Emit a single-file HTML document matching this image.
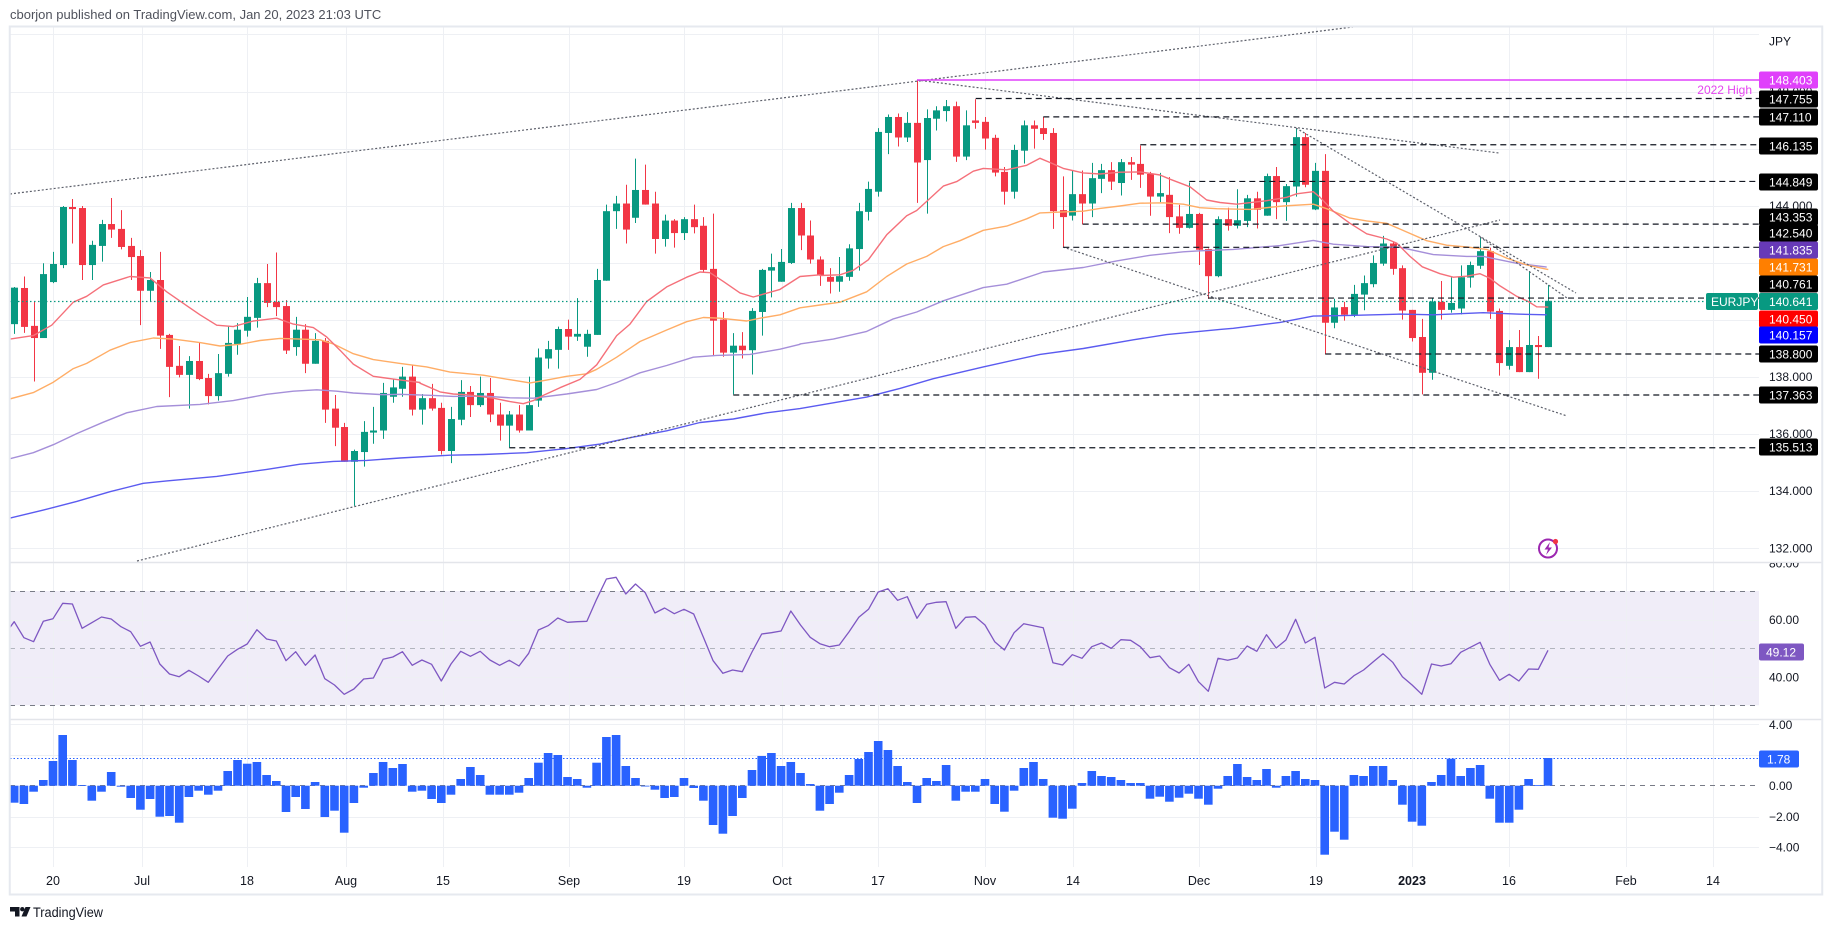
<!DOCTYPE html>
<html><head><meta charset="utf-8"><title>EURJPY chart</title>
<style>
html,body{margin:0;padding:0;background:#fff}
body{width:1833px;height:930px;overflow:hidden;position:relative}
svg{position:absolute;left:0;top:0;font-family:"Liberation Sans",Arial,sans-serif}
</style></head>
<body>
<svg id="s" width="1833" height="930" viewBox="0 0 1833 930" xmlns="http://www.w3.org/2000/svg">
<defs>
<clipPath id="cm"><rect x="10" y="27" width="1749" height="535"/></clipPath>
<clipPath id="cr"><rect x="10" y="563" width="1749" height="155"/></clipPath>
<clipPath id="cd"><rect x="10" y="720" width="1749" height="147"/></clipPath>
<clipPath id="ar"><rect x="1759" y="563" width="63" height="155"/></clipPath>
<clipPath id="ad"><rect x="1759" y="720" width="63" height="147"/></clipPath>
</defs>
<rect width="1833" height="930" fill="#fff"/>
<text x="10" y="19" font-size="13" fill="#4f525c">cborjon published on TradingView.com, Jan 20, 2023 21:03 UTC</text>

<rect x="10" y="591" width="1749" height="114.3" fill="#F0EDF8"/>
<g id="grid"></g>

<!-- RSI pane static lines -->
<g clip-path="url(#cr)">
<line x1="10" x2="1759" y1="591.5" y2="591.5" stroke="#787B86" stroke-dasharray="5 5"/>
<line x1="10" x2="1759" y1="648.5" y2="648.5" stroke="#B2B5BE" stroke-dasharray="5 5"/>
<line x1="10" x2="1759" y1="705.5" y2="705.5" stroke="#787B86" stroke-dasharray="5 5"/>
<g id="rsi"></g>
</g>

<!-- MACD pane -->
<g clip-path="url(#cd)">
<line x1="10" x2="1759" y1="785.5" y2="785.5" stroke="#787B86" stroke-dasharray="5 5"/>
<g id="hist"></g>
<line x1="10" x2="1759" y1="758.5" y2="758.5" stroke="#2962FF" stroke-dasharray="1.5 2"/>
</g>

<!-- main pane -->
<g clip-path="url(#cm)">
<g id="candles"></g>
<g id="mas"></g>
<g id="draw"></g>
<line x1="10" x2="1706" y1="301.5" y2="301.5" stroke="#089981" stroke-dasharray="1.5 2.5" stroke-width="1.2"/>
<line x1="917" x2="1759" y1="80" y2="80" stroke="#E040FB" stroke-width="1.5"/>
<text x="1752" y="94" font-size="12" fill="#E545F0" text-anchor="end">2022 High</text>
<!-- lightning icon -->
<circle cx="1548" cy="548.5" r="9" fill="#fff" stroke="#9C27B0" stroke-width="2"/>
<path d="M1550 542 L1544.5 549.5 L1548 549.5 L1546 555 L1552 547.5 L1548.5 547.5 Z" fill="#9C27B0"/>
<circle cx="1555.5" cy="541.5" r="2.6" fill="#F23645"/>
</g>

<!-- separators & frame -->
<line x1="10" x2="1822" y1="562.5" y2="562.5" stroke="#E3E5EA" stroke-width="1.5"/>
<line x1="10" x2="1822" y1="719.5" y2="719.5" stroke="#E3E5EA" stroke-width="1.5"/>
<rect x="9.75" y="26.5" width="1812.5" height="868" fill="none" stroke="#E6E9EF" stroke-width="2"/>

<!-- price axis gray labels -->
<g font-size="12" fill="#131722">
<text x="1769" y="45.5">JPY</text>
<text x="1769" y="95.8">148.000</text>
<text x="1769" y="209.9">144.000</text>
<text x="1769" y="381.1">138.000</text>
<text x="1769" y="438.2">136.000</text>
<text x="1769" y="495.2">134.000</text>
<text x="1769" y="552.3">132.000</text>
</g>
<g font-size="12" fill="#131722" clip-path="url(#ar)">
<text x="1769" y="567.3">80.00</text>
<text x="1769" y="624">60.00</text>
<text x="1769" y="681.3">40.00</text>
</g>
<g font-size="12" fill="#131722" clip-path="url(#ad)">
<text x="1769" y="728.8">4.00</text>
<text x="1769" y="790">0.00</text>
<text x="1769" y="820.8">−2.00</text>
<text x="1769" y="851.6">−4.00</text>
</g>

<!-- price axis boxed labels -->
<g font-size="12" fill="#fff">
<rect x="1759" y="71.5" width="59" height="17" rx="2" fill="#E040FB"/><text x="1769" y="84.3">148.403</text>
<rect x="1759" y="90.5" width="59" height="17" rx="2" fill="#000"/><text x="1769" y="103.3">147.755</text>
<rect x="1759" y="108.5" width="59" height="17" rx="2" fill="#000"/><text x="1769" y="121.3">147.110</text>
<rect x="1759" y="137.5" width="59" height="17" rx="2" fill="#000"/><text x="1769" y="150.3">146.135</text>
<rect x="1759" y="173.5" width="59" height="17" rx="2" fill="#000"/><text x="1769" y="186.3">144.849</text>
<rect x="1759" y="208.5" width="59" height="17" rx="2" fill="#000"/><text x="1769" y="221.3">143.353</text>
<rect x="1759" y="224.5" width="59" height="17" rx="2" fill="#000"/><text x="1769" y="237.3">142.540</text>
<rect x="1759" y="241.5" width="59" height="17" rx="2" fill="#673AB7"/><text x="1769" y="254.3">141.835</text>
<rect x="1759" y="258.5" width="59" height="17" rx="2" fill="#FF7F00"/><text x="1769" y="271.3">141.731</text>
<rect x="1759" y="275.5" width="59" height="17" rx="2" fill="#000"/><text x="1769" y="288.3">140.761</text>
<rect x="1706" y="293" width="52" height="17" rx="2" fill="#089981"/><text x="1711" y="306">EURJPY</text>
<rect x="1759" y="293" width="59" height="17" rx="2" fill="#089981"/><text x="1769" y="306">140.641</text>
<rect x="1759" y="310.5" width="59" height="17" rx="2" fill="#FF0000"/><text x="1769" y="323.3">140.450</text>
<rect x="1759" y="326.5" width="59" height="17" rx="2" fill="#0000FF"/><text x="1769" y="339.3">140.157</text>
<rect x="1759" y="345.5" width="59" height="17" rx="2" fill="#000"/><text x="1769" y="358.3">138.800</text>
<rect x="1759" y="386.5" width="59" height="17" rx="2" fill="#000"/><text x="1769" y="399.3">137.363</text>
<rect x="1759" y="438.5" width="59" height="17" rx="2" fill="#000"/><text x="1769" y="451.3">135.513</text>
<rect x="1759" y="643.5" width="45" height="17" rx="2" fill="#7E57C2"/><text x="1766" y="656.3">49.12</text>
<rect x="1759" y="750.5" width="40" height="17" rx="2" fill="#2962FF"/><text x="1767" y="763.3">1.78</text>
</g>

<!-- time axis -->
<g font-size="12.5" fill="#131722" text-anchor="middle">
<text x="53" y="885">20</text>
<text x="142" y="885">Jul</text>
<text x="247" y="885">18</text>
<text x="346" y="885">Aug</text>
<text x="443" y="885">15</text>
<text x="569" y="885">Sep</text>
<text x="684" y="885">19</text>
<text x="782" y="885">Oct</text>
<text x="878" y="885">17</text>
<text x="985" y="885">Nov</text>
<text x="1073" y="885">14</text>
<text x="1199" y="885">Dec</text>
<text x="1316" y="885">19</text>
<text x="1412" y="885" font-weight="bold">2023</text>
<text x="1509" y="885">16</text>
<text x="1626" y="885">Feb</text>
<text x="1713" y="885">14</text>
</g>

<!-- footer -->
<g fill="#131722">
<path d="M10 907 H19.5 V916.5 H15 V911.5 H10 Z"/>
<circle cx="22.3" cy="909.2" r="2.2"/>
<path d="M25.5 907 H30.5 L26.5 916.5 H21.5 Z"/>
</g>
<text x="33" y="917" font-size="13.5" fill="#131722" textLength="70" lengthAdjust="spacingAndGlyphs">TradingView</text>
</svg>

<script>
(function(){
const NS='http://www.w3.org/2000/svg';
function el(tag,a,p){const e=document.createElementNS(NS,tag);for(const k in a)e.setAttribute(k,a[k]);p.appendChild(e);return e;}
const X=i=>53+9.708*i;
const ZY=z=>20+z/2.877;
const P=p=>548-(p-132)*28.53;

// grid
const g=document.getElementById('grid');
const gc='#EEF0F4';
[53,142,247,346,443,569,684,782,878,985,1073,1199,1316,1412,1509,1626,1713].forEach(x=>el('line',{x1:x+.5,x2:x+.5,y1:27,y2:867,stroke:gc},g));
for(let p=132;p<=150;p+=2){const y=Math.round(P(p))+.5;if(y>27)el('line',{x1:10,x2:1759,y1:y,y2:y,stroke:gc},g);}
[619.7,677,724,755,816.5,847.3].forEach(v=>{const y=Math.round(v)+.5;el('line',{x1:10,x2:1759,y1:y,y2:y,stroke:gc},g);});

// candles [i,color,bodyTop,bodyBot,wickTop,wickBot] in zoom-y units
const C=[
[-4,'g',770,875,768,903],[-3,'r',771,883,738,900],[-2,'r',880,915,810,1040],[-1,'g',731,915,700,915],
[0,'g',702,754,667,757],[1,'g',538,705,535,714],[2,'r',538,544,515,643],[3,'r',541,705,535,748],
[4,'g',647,705,635,748],[5,'g',587,650,575,695],[6,'r',587,603,512,627],[7,'r',601,653,547,660],
[8,'r',650,682,627,748],[9,'r',679,779,662,878],[10,'g',748,779,725,810],[11,'r',748,908,667,946],
[12,'r',906,998,903,1085],[13,'r',995,1021,938,1028],[14,'g',981,1021,967,1118],[15,'r',981,1033,929,1036],
[16,'r',1030,1082,1018,1106],[17,'g',1016,1082,961,1095],[18,'g',929,1018,882,1026],[19,'g',891,932,872,963],
[20,'g',854,894,797,911],[21,'g',757,857,742,885],[22,'r',757,814,702,826],[23,'r',811,826,669,852],
[24,'r',823,951,806,961],[25,'g',891,941,854,966],[26,'r',891,989,875,1016],[27,'g',923,989,901,989],
[28,'r',923,1121,915,1159],[29,'r',1118,1173,1079,1226],[30,'r',1171,1271,1159,1271],[31,'g',1240,1271,1236,1398],
[32,'g',1185,1243,1154,1285],[33,'g',1181,1187,1113,1219],[34,'g',1073,1181,1044,1205],[35,'g',1057,1084,1033,1101],
[36,'g',1026,1061,998,1084],[37,'r',1026,1121,993,1138],[38,'g',1088,1121,1076,1164],[39,'r',1088,1118,1047,1124],
[40,'r',1116,1240,1101,1250],[41,'g',1148,1240,1113,1275],[42,'g',1070,1150,1036,1166],[43,'r',1070,1108,1053,1142],
[44,'g',1073,1108,1026,1113],[45,'r',1073,1135,1030,1157],[46,'r',1135,1167,1101,1210],[47,'g',1135,1167,1125,1230],
[48,'r',1135,1181,1108,1187],[49,'g',1108,1181,1026,1181],[50,'g',971,1095,945,1113],[51,'g',947,974,923,1003],
[52,'g',889,949,882,1003],[53,'r',889,911,862,949],[54,'g',903,911,800,923],[55,'g',903,940,891,969],
[56,'g',748,906,716,906],[57,'g',550,750,531,750],[58,'g',528,550,506,601],[59,'r',528,603,474,643],
[60,'g',489,569,399,584],[61,'r',489,531,416,531],[62,'r',528,630,494,672],[63,'g',577,630,560,652],
[64,'r',577,613,573,655],[65,'g',573,613,567,633],[66,'r',573,596,531,614],[67,'r',592,719,567,727],
[68,'r',716,865,557,967],[69,'r',862,957,840,969],[70,'g',937,957,901,1077],[71,'r',937,950,898,974],
[72,'g',837,950,829,1020],[73,'g',719,840,716,908],[74,'g',711,721,672,798],[75,'g',696,753,659,753],
[76,'g',541,699,526,702],[77,'r',541,620,526,662],[78,'r',620,689,577,701],[79,'r',689,735,680,765],
[80,'r',739,753,714,787],[81,'g',737,753,682,782],[82,'g',657,739,645,750],[83,'g',550,659,526,721],
[84,'g',486,552,465,577],[85,'g',322,494,311,508],[86,'g',279,325,272,386],[87,'r',279,338,269,364],
[88,'g',296,338,265,351],[89,'r',296,410,174,526],[90,'g',282,403,257,557],[91,'g',260,284,248,318],
[92,'g',248,262,230,292],[93,'r',248,393,235,408],[94,'g',303,393,260,403],[95,'r',289,296,228,313],
[96,'r',293,341,279,373],[97,'r',339,439,330,450],[98,'r',437,494,423,531],[99,'g',374,494,359,514],
[100,'g',303,376,289,413],[101,'r',303,313,289,370],[102,'r',311,328,279,345],[103,'r',325,550,311,601],
[104,'r',547,567,450,655],[105,'g',501,563,433,577],[106,'r',501,528,433,588],[107,'g',455,528,411,567],
[108,'g',432,457,414,498],[109,'r',432,465,409,489],[110,'g',409,469,400,505],[111,'r',409,416,394,460],
[112,'r',414,445,361,483],[113,'r',443,508,437,563],[114,'g',498,508,440,524],[115,'r',503,567,452,613],
[116,'r',565,598,532,615],[117,'g',558,598,467,600],[118,'r',558,661,555,705],[119,'r',659,737,657,802],
[120,'g',573,737,565,740],[121,'r',573,592,540,606],[122,'g',576,592,487,600],[123,'g',513,578,503,596],
[124,'r',513,546,494,600],[125,'g',449,563,442,563],[126,'r',449,524,423,573],[127,'g',478,524,472,578],
[128,'g',337,479,311,508],[129,'r',337,474,325,481],[130,'g',434,545,411,547],[131,'r',434,871,386,962],
[132,'g',827,871,802,887],[133,'r',826,848,811,865],[134,'g',788,848,762,855],[135,'g',757,790,735,835],
[136,'g',699,760,677,769],[137,'g',643,701,621,707],[138,'r',643,716,640,733],[139,'r',714,836,706,862],
[140,'r',834,915,834,925],[141,'r',912,1015,860,1077],[142,'g',810,1015,800,1035],[143,'r',811,834,751,862],
[144,'g',814,834,741,842],[145,'g',740,830,706,847],[146,'g',705,741,695,770],[147,'g',665,707,624,716],
[148,'r',665,839,655,860],[149,'r',837,987,830,1023],[150,'g',941,995,921,1006],[151,'r',941,1013,892,1013],
[152,'g',935,1013,722,1013],[153,'r',935,941,909,1032],[154,'g',808,941,762,941]
];
const cg=document.getElementById('candles');
C.forEach(c=>{
  const col=c[1]==='g'?'#089981':'#F23645';
  const cx=Math.round(X(c[0]));
  const bt=ZY(c[2]),bb=ZY(c[3]),wt=ZY(c[4]),wb=ZY(c[5]);
  el('line',{x1:cx+.5,x2:cx+.5,y1:wt,y2:wb,stroke:col,'stroke-width':1},cg);
  el('rect',{x:cx-3,y:bt,width:7,height:Math.max(1,bb-bt),fill:col},cg);
});

// moving averages
const MA=[
 ['#5B5BF0',[[0,[[30,1433],[130,1410],[230,1385],[330,1357],[430,1333],[500,1326],[650,1313],[800,1293],[900,1278],[1000,1270],[1100,1267]]],
  [400,[[0,1260],[150,1252],[250,1250],[380,1245],[500,1233],[600,1220],[700,1200],[800,1182],[900,1158],[1000,1148],[1100,1130]]],
  [800,[[0,1118],[200,1085],[300,1060],[400,1032],[550,998],[720,962],[850,945],[1000,920],[1100,905],[1260,890]]],
  [1200,[[100,887],[240,870],[340,852],[450,850],[600,846],[700,848],[850,842],[950,846],[1040,848]]]]],
 ['#A58FD9',[[0,[[30,1262],[100,1245],[160,1222],[230,1190],[310,1157],[380,1130],[470,1112],[600,1106],[700,1095],[800,1077],[880,1068],[950,1064],[1010,1068],[1060,1073],[1150,1078]]],
  [400,[[0,1077],[100,1080],[160,1083],[250,1082],[330,1087],[400,1088],[500,1076],[590,1063],[650,1043],[720,1015],[800,994],[880,970],[950,965],[1050,962],[1140,947],[1200,933]]],
  [800,[[0,932],[100,918],[200,896],[280,860],[350,840],[430,808],[550,770],[620,760],[730,725],[850,712],[950,693],[1050,677],[1150,667]]],
  [1200,[[0,664],[100,660],[240,649],[340,634],[400,645],[500,652],[600,654],[700,675],[800,680],[850,680],[950,700],[1040,711]]]]],
 ['#FFAD66',[[0,[[30,1090],[100,1072],[160,1042],[220,1003],[260,988],[330,950],[390,928],[460,915],[520,918],[600,928],[660,938],[720,933],[780,922],[840,916],[900,918],[960,920],[1000,932],[1060,960],[1120,977],[1200,988]]],
  [400,[[80,998],[150,1013],[250,1022],[330,1035],[390,1044],[440,1036],[500,1025],[560,1018],[590,1005],[650,970],[720,925],[800,892],[860,868],[910,856],[960,858],[1040,866],[1080,858],[1140,848],[1200,828],[1260,820]]],
  [800,[[60,820],[120,812],[200,782],[260,738],[320,702],[380,680],[430,652],[480,635],[550,605],[620,593],[680,572],[720,555],[790,552],[850,550],[900,542],[960,535],[1020,527],[1090,526],[1150,530],[1200,540]]],
  [1200,[[50,543],[150,545],[250,535],[340,530],[380,543],[450,570],[500,578],[560,585],[620,610],[680,635],[740,648],[800,653],[860,660],[920,685],[980,705],[1045,718]]]]],
 ['#F5707A',[[0,[[30,918],[100,908],[155,878],[220,812],[260,795],[310,762],[390,738],[450,742],[500,782],[560,822],[600,848],[650,878],[700,882],[760,866],[830,858],[880,875],[940,885],[980,912],[1020,950],[1060,990],[1120,1025],[1180,1033],[1260,1043]]],
  [400,[[60,1045],[120,1070],[160,1076],[200,1078],[280,1088],[330,1098],[370,1104],[400,1095],[430,1080],[480,1058],[540,1034],[590,992],[650,908],[690,875],[740,810],[800,768],[860,740],[900,725],[930,727],[970,752],[1020,785],[1060,797],[1100,786],[1140,775],[1200,738],[1260,733]]],
  [800,[[60,735],[120,733],[160,720],[205,690],[260,618],[320,563],[350,548],[380,522],[430,478],[470,465],[520,435],[550,427],[620,431],[680,418],[720,398],[750,410],[790,427],[850,440],[900,443],[960,438],[1020,437],[1080,446],[1110,458],[1170,480],[1220,518]]],
  [1200,[[60,525],[110,530],[200,520],[260,510],[290,500],[340,494],[360,510],[400,550],[450,585],[500,615],[560,630],[590,642],[630,680],[667,710],[720,730],[760,740],[800,737],[840,730],[870,743],[900,765],[950,795],[985,810],[1010,825],[1045,826]]]]]
];
const mg=document.getElementById('mas');
MA.forEach(m=>{
  let pts=[];
  m[1].forEach(s=>{const off=s[0];s[1].forEach(p=>pts.push([off+p[0]/3,ZY(p[1])]));});
  pts.sort((a,b)=>a[0]-b[0]);
  el('polyline',{points:pts.map(p=>p[0].toFixed(1)+','+p[1].toFixed(1)).join(' '),fill:'none',stroke:m[0],'stroke-width':1.4,'stroke-linejoin':'round'},mg);
});

// drawings
const dg=document.getElementById('draw');
const tl=[[10,194,1353,27],[137,561,1500,220],[917,80,1499,153],[1296,128,1576,293],[1480,237,1567,298],[1063,247,1567,416]];
tl.forEach(t=>el('line',{x1:t[0],y1:t[1],x2:t[2],y2:t[3],stroke:'#5d606b','stroke-width':1.2,'stroke-dasharray':'2 2'},dg));
const hl=[[147.755,975.7],[147.110,1043.3],[146.135,1140.3],[144.849,1189.3],[143.353,1082.7],[142.540,1063.3],[140.761,1208],[138.800,1325.3],[137.363,733.3],[135.513,509.3]];
hl.forEach(h=>{const y=P(h[0]);el('line',{x1:h[1],x2:1759,y1:y,y2:y,stroke:'#131722','stroke-width':1.2,'stroke-dasharray':'6 4'},dg);});

// RSI
const R=[185,233,245,184,176,130,132,205,188,171,177,200,215,259,246,312,342,350,331,348,367,327,288,268,252,209,237,243,302,275,316,285,356,375,403,387,357,354,298,291,275,316,300,313,363,312,274,289,274,300,316,301,318,
280,210,197,174,187,185,184,118,57,52,102,72,98,159,144,161,148,162,232,302,340,330,335,276,222,218,213,153,195,232,251,260,255,215,172,148,96,86,121,110,175,133,127,125,205,172,170,195,245,270,218,191,197,
203,308,315,284,295,260,249,265,239,241,260,293,288,323,339,313,365,394,295,301,294,258,274,224,264,240,178,249,232,384,367,372,347,330,305,281,307,350,375,403,312,318,311,277,262,247,313,361,343,363,327,328,271];
let rp=['10,'+(560+202/3).toFixed(1)];
R.forEach((v,k)=>rp.push(X(k-4).toFixed(1)+','+(560+v/3).toFixed(1)));
el('polyline',{points:rp.join(' '),fill:'none',stroke:'#7E57C2','stroke-width':1.3,'stroke-linejoin':'round'},document.getElementById('rsi'));

// MACD histogram
const H=[728,732,695,660,603,525,600,675,722,695,636,680,714,749,717,770,768,788,711,692,704,692,633,600,611,606,645,663,756,711,747,666,771,752,818,729,683,639,606,624,612,695,692,717,729,704,657,621,645,704,704,704,698,
654,608,579,585,651,657,683,608,531,525,618,654,678,689,714,711,654,684,722,795,821,768,714,630,588,579,618,606,639,672,752,732,698,645,597,576,543,570,618,666,729,654,663,615,722,695,695,657,732,755,692,624,606,
657,773,776,746,669,633,648,651,660,669,669,716,710,725,713,701,716,734,686,648,612,651,660,627,683,648,633,657,660,884,815,839,645,648,618,618,660,734,785,797,666,645,596,648,624,615,716,788,788,749,657,675,594];
const hg=document.getElementById('hist');
const z0=785.7;
H.forEach((v,k)=>{
  const y=560+v/3;const x=X(k-4);
  const top=Math.min(y,z0),h=Math.max(0.8,Math.abs(y-z0));
  el('rect',{x:(x-4.3).toFixed(1),y:top.toFixed(1),width:8.6,height:h.toFixed(1),fill:'#2962FF'},hg);
});
})();
</script>
</body></html>
